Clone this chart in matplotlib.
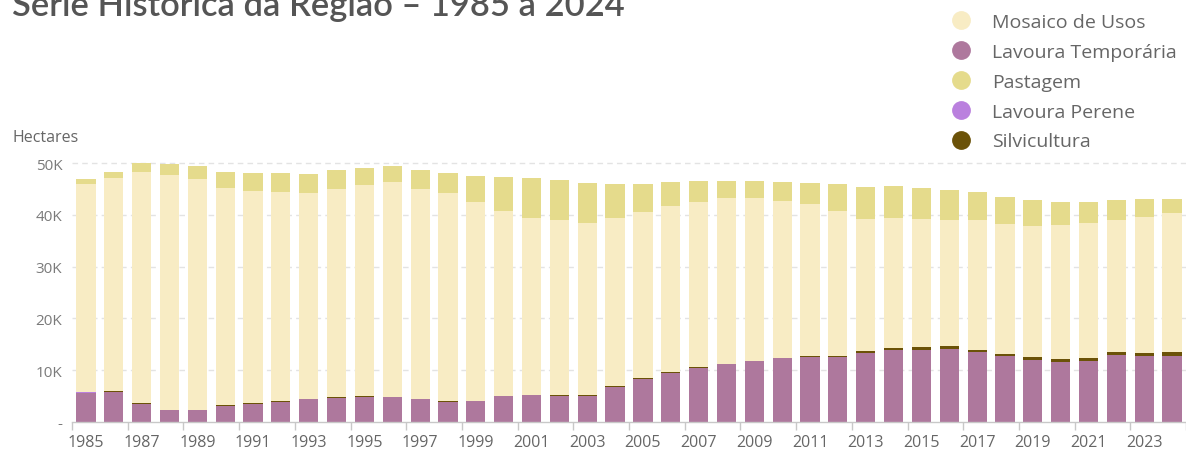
import numpy as np
import matplotlib
matplotlib.use("Agg")
import matplotlib.pyplot as plt
from matplotlib.lines import Line2D

# ---- data (hectares) ----
years = list(range(1985, 2025))

lavoura_temporaria = [5500, 5700, 3500, 2300, 2200, 3100, 3500, 3850, 4350, 4600,
                      4850, 4750, 4350, 3900, 4000, 4900, 5100, 5050, 5000, 6750,
                      8350, 9500, 10400, 11100, 11700, 12250, 12550, 12450, 13350, 13800,
                      13900, 14050, 13400, 12650, 11900, 11600, 11750, 12850, 12700, 12700]

silvicultura = [150, 150, 100, 50, 50, 80, 80, 100, 100, 100,
                100, 100, 100, 80, 80, 80, 80, 80, 80, 80,
                80, 100, 100, 100, 100, 120, 150, 300, 400, 400,
                500, 550, 450, 450, 550, 600, 650, 650, 650, 700]

lavoura_perene = [10] * 40

mosaico_de_usos = [40250, 41250, 44800, 45350, 44750, 42000, 41100, 40450, 39850, 40250,
                   40900, 41550, 40550, 40200, 38400, 35750, 34200, 33850, 33450, 32550,
                   32150, 32200, 32050, 32100, 31500, 30400, 29400, 27950, 25500, 25150,
                   24750, 24400, 25100, 25100, 25400, 25850, 26050, 25600, 26300, 26950]

pastagem = [1000, 1300, 1600, 2100, 2500, 3100, 3500, 3800, 3700, 3750,
            3250, 3100, 3700, 4000, 5000, 6550, 7700, 7700, 7650, 6600,
            5400, 4500, 3950, 3300, 3300, 3650, 4100, 5300, 6150, 6300,
            6050, 5750, 5450, 5200, 5050, 4500, 4000, 3700, 3350, 2800]

y_ticks = [0, 10000, 20000, 30000, 40000, 50000]
y_tick_labels = ["-", "10K", "20K", "30K", "40K", "50K"]

# ---- style ----
FONT = "Open Sans"
C_TEMP = "#AE789D"
C_SILV = "#6B5208"
C_PEREN = "#BA80DE"
C_MOSA = "#F8ECC4"
C_PAST = "#E5DB8C"
TEXT_GRAY = "#666666"

plt.rcParams["font.family"] = [FONT, "DejaVu Sans"]

W, H = 1186, 452
fig = plt.figure(figsize=(W / 100, H / 100), dpi=100)

# axes placed in pixel terms
x_left_px, x_right_px = 72, 1186
y_zero_px, y_50k_px = 422.7, 164.3
y_top_val = 51000
px_per_val = (y_zero_px - y_50k_px) / 50000
ax_h_px = y_top_val * px_per_val
ax = fig.add_axes([x_left_px / W, (H - y_zero_px) / H,
                   (x_right_px - x_left_px) / W, ax_h_px / H])

band = 27.96
x0 = 1984.5
x1 = x0 + (x_right_px - x_left_px) / band
ax.set_xlim(x0, x1)
ax.set_ylim(0, y_top_val)

x = np.array(years)
bw = 0.69
bottom = np.zeros(len(years))
stack = [
    (lavoura_temporaria, C_TEMP, "Lavoura Temporária"),
    (silvicultura, C_SILV, "Silvicultura"),
    (lavoura_perene, C_PEREN, "Lavoura Perene"),
    (mosaico_de_usos, C_MOSA, "Mosaico de Usos"),
    (pastagem, C_PAST, "Pastagem"),
]
for vals, col, name in stack:
    v = np.array(vals, dtype=float)
    ax.bar(x, v, width=bw, bottom=bottom, color=col, linewidth=0, zorder=2)
    bottom += v

# grid
ax.set_yticks(y_ticks)
ax.set_yticklabels(y_tick_labels)
for yv in y_ticks[1:]:
    ax.axhline(yv, color="#e3e3e3", lw=1, ls=(0, (4, 3)), zorder=1)
ax.tick_params(axis="y", length=0, pad=7, labelsize=11, labelcolor="#7a7a7a")

# x axis: tick marks at band boundaries, labels at odd years
ax.set_xticks(np.arange(1984.5, 2025, 2))
ax.set_xticklabels([])
ax.set_xticks(np.arange(1985, 2025, 2), minor=True)
ax.set_xticklabels([str(y) for y in range(1985, 2025, 2)], minor=True)
ax.tick_params(axis="x", which="major", length=6, color="#c8c8c8", width=1)
ax.tick_params(axis="x", which="minor", length=0, pad=9, labelsize=11.5,
               labelcolor=TEXT_GRAY)

for s in ["top", "right", "left"]:
    ax.spines[s].set_visible(False)
ax.spines["bottom"].set_color("#c8c8c8")
ax.spines["bottom"].set_linewidth(1)

# axis title
fig.text(12 / W, 1 - 138 / H, "Hectares", ha="left", va="center",
         fontsize=11.5, color=TEXT_GRAY)

# chart title (top runs past the canvas edge)
fig.text(12 / W, 1 - 15.5 / H, "Série Histórica da Região – 1985 a 2024",
         ha="left", va="baseline", fontsize=24.8, fontweight="semibold",
         color="#555555", family=["Lato", "DejaVu Sans"])

# legend
legend_items = [("Mosaico de Usos", C_MOSA), ("Lavoura Temporária", C_TEMP),
                ("Pastagem", C_PAST), ("Lavoura Perene", C_PEREN),
                ("Silvicultura", C_SILV)]
handles = [Line2D([], [], marker="o", ls="", markersize=12.5,
                  markerfacecolor=c, markeredgecolor=c) for _, c in legend_items]
leg = fig.legend(handles, [n for n, _ in legend_items], loc="upper left",
                 bbox_to_anchor=(951 / W, 1 - 14 / H), frameon=False,
                 fontsize=14, labelcolor=TEXT_GRAY, handletextpad=1.1,
                 labelspacing=0.61, borderaxespad=0, borderpad=0,
                 handlelength=1.0)

fig.savefig("out.png", dpi=100)
